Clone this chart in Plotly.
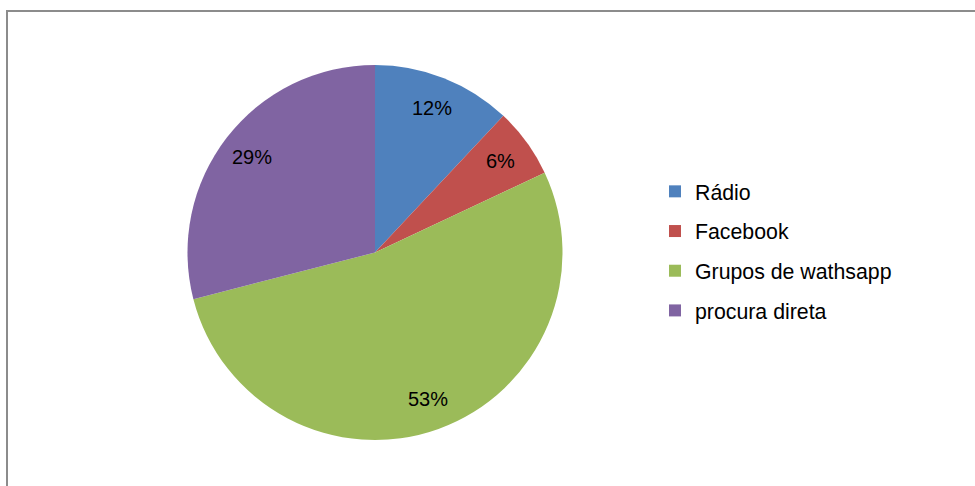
import math
import plotly.graph_objects as go

# Source share of each channel
categories = ["Rádio", "Facebook", "Grupos de wathsapp", "procura direta"]
values = [12, 6, 53, 29]
colors = ["#4F81BD", "#C0504D", "#9BBB59", "#8064A2"]

W, H = 975, 486
cx, cy, r = 375, 252.5, 187.5
font_family = "Liberation Sans, Arial, sans-serif"

fig = go.Figure()

fig.add_trace(go.Pie(
    labels=categories,
    values=values,
    sort=False,
    direction="clockwise",
    rotation=0,
    marker=dict(colors=colors, line=dict(width=0)),
    textinfo="none",
    hoverinfo="label+percent",
    showlegend=False,
    domain=dict(x=[(cx - r) / W, (cx + r) / W],
                y=[1 - (cy + r) / H, 1 - (cy - r) / H]),
))

# Legend entries (one group each so the gap spaces them out)
for name, col in zip(categories, colors):
    fig.add_trace(go.Scatter(
        x=[None], y=[None], mode="markers", name=name,
        legendgroup=name,
        marker=dict(symbol="square", size=12, color=col),
    ))

# Percentage labels placed at each slice's mid-angle
total = sum(values)
annotations = []
cum = 0
for v in values:
    mid = (cum + v / 2) / total * 2 * math.pi
    cum += v
    rr = 0.83 * r
    px = cx + rr * math.sin(mid)
    py = cy - rr * math.cos(mid)
    annotations.append(dict(
        x=px / W, y=1 - py / H, xref="paper", yref="paper",
        xanchor="center", yanchor="middle",
        text=f"{v}%", showarrow=False,
        font=dict(size=20, color="#000000", family=font_family),
    ))

fig.update_layout(
    width=W, height=H,
    margin=dict(l=0, r=0, t=0, b=0),
    paper_bgcolor="white",
    plot_bgcolor="white",
    xaxis=dict(visible=False),
    yaxis=dict(visible=False),
    annotations=annotations,
    legend=dict(
        x=655 / W, y=1 - 171 / H, xanchor="left", yanchor="top",
        font=dict(size=21.3, color="#000000", family=font_family),
        tracegroupgap=9,
        bgcolor="rgba(0,0,0,0)",
    ),
    shapes=[dict(
        type="rect", xref="paper", yref="paper",
        x0=7 / W, x1=1.1, y0=-0.1, y1=1 - 11 / H,
        line=dict(color="#8C8C8C", width=2),
        fillcolor="rgba(0,0,0,0)", layer="below",
    )],
)

fig.write_html("out.html")
